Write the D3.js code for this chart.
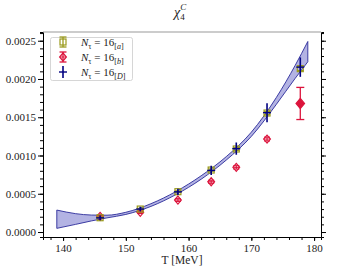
<!DOCTYPE html>
<html lang="en">
<head>
<meta charset="UTF-8">
<title>chi4 C</title>
<script src="https://d3js.org/d3.v7.min.js"></script>
<style>
  body { margin: 0; background: #fff; }
  text { font-family: "Liberation Serif", "DejaVu Serif", serif; fill: #222; }
</style>
</head>
<body>
<script>
    // data
    var temps = [145.9, 152.3, 158.3, 163.6, 167.6, 172.5, 177.8];
    var chiA = [0.000187, 0.000300, 0.000527, 0.000810, 0.001085, 0.001555, 0.002135];
    var errA = [0.000010, 0.000010, 0.000012, 0.000015, 0.000018, 0.000020, 0.000025];
    var chiB = [0.000205, 0.000257, 0.000418, 0.000657, 0.000845, 0.001215];
    var errB = [0.000015, 0.000015, 0.000018, 0.000020, 0.000022, 0.000025];
    var tempsB2 = [177.8];
    var chiB2 = [0.00168];
    var errB2 = [0.00021];
    var chiD = [0.000185, 0.000300, 0.000525, 0.000805, 0.001090, 0.001560, 0.002155];
    var errD = [0.00003, 0.00003, 0.00004, 0.00006, 0.00008, 0.000124, 0.000127];

    var bandT     = [139, 142, 144.5, 147, 150, 154, 158, 162, 166, 170, 174, 177, 179];
    var bandUpper = [0.000287, 0.000240, 0.000222, 0.000220, 0.000258, 0.000370, 0.000530, 0.000735, 0.000985, 0.001305, 0.001760, 0.002180, 0.002490];
    var bandLower = [0.000048, 0.000100, 0.000145, 0.000185, 0.000230, 0.000335, 0.000490, 0.000690, 0.000940, 0.001250, 0.001670, 0.002010, 0.002225];

    var xTicks = [140, 150, 160, 170, 180];
    var yTicks = [0, 0.0005, 0.0010, 0.0015, 0.0020, 0.0025];

    var width = 356, height = 267;
    var mLeft = 43, mRight = 321, mTop = 32, mBottom = 237;

    var olive = "#9a9a1c", red = "#dc143c", navy = "#000080";

    var svg = d3.select("body").append("svg")
        .attr("width", width)
        .attr("height", height);

    var x = d3.scaleLinear().domain([136.8, 181.1]).range([mLeft, mRight]);
    var y = d3.scaleLinear().domain([-0.000065, 0.002614]).range([mBottom, mTop]);

    // band
    var band = bandT.map(function(t, i) { return {t: t, lo: bandLower[i], hi: bandUpper[i]}; });
    var area = d3.area()
        .curve(d3.curveMonotoneX)
        .x(function(d) { return x(d.t); })
        .y0(function(d) { return y(d.lo); })
        .y1(function(d) { return y(d.hi); });
    svg.append("path")
        .datum(band)
        .attr("d", area)
        .attr("fill", "#8080d0")
        .attr("fill-opacity", 0.6)
        .attr("stroke", "#2a2a9a")
        .attr("stroke-width", 0.9);

    // axes
    var xMinor = d3.range(138, 181, 2);
    var yMinor = d3.range(0, 0.00261, 0.0001);

    svg.append("g").attr("transform", "translate(0," + mBottom + ")")
        .call(d3.axisBottom(x).tickValues(xMinor).tickSize(3).tickFormat(""));
    svg.append("g").attr("transform", "translate(0," + mBottom + ")")
        .call(d3.axisBottom(x).tickValues(xTicks).tickSize(4).tickPadding(3).tickFormat(d3.format("d")))
        .call(function(g) { g.select(".domain").remove(); });

    svg.append("g").attr("transform", "translate(" + mLeft + ",0)")
        .call(d3.axisLeft(y).tickValues(yMinor).tickSize(3).tickFormat(""));
    svg.append("g").attr("transform", "translate(" + mLeft + ",0)")
        .call(d3.axisLeft(y).tickValues(yTicks).tickSize(5).tickPadding(2).tickFormat(d3.format(".4f")))
        .call(function(g) { g.select(".domain").remove(); });

    svg.append("g").attr("transform", "translate(" + mRight + ",0)")
        .call(d3.axisRight(y).tickValues(yMinor).tickSize(3).tickFormat(""));
    svg.append("g").attr("transform", "translate(" + mRight + ",0)")
        .call(d3.axisRight(y).tickValues(yTicks).tickSize(5).tickFormat(""))
        .call(function(g) { g.select(".domain").remove(); });

    svg.selectAll(".domain").attr("stroke", "#000").attr("stroke-width", 1);
    svg.selectAll(".tick line").attr("stroke", "#000");
    svg.selectAll(".tick text")
        .style("font-family", '"Liberation Serif", serif')
        .style("font-size", "11px")
        .attr("fill", "#222");

    svg.append("line")
        .attr("x1", mLeft).attr("x2", mRight).attr("y1", mTop).attr("y2", mTop)
        .attr("stroke", "#999").attr("stroke-width", 1.2);

    // error bar helper
    function errbar(g, cx, cy, ylo, yhi, color, cap, sw) {
        g.append("line").attr("x1", cx).attr("x2", cx).attr("y1", ylo).attr("y2", yhi)
            .attr("stroke", color).attr("stroke-width", sw);
        if (cap > 0) {
            [ylo, yhi].forEach(function(yy) {
                g.append("line").attr("x1", cx - cap).attr("x2", cx + cap).attr("y1", yy).attr("y2", yy)
                    .attr("stroke", color).attr("stroke-width", sw);
            });
        }
    }
    function square(g, cx, cy, s, color) {
        g.append("rect").attr("x", cx - s).attr("y", cy - s).attr("width", 2 * s).attr("height", 2 * s)
            .attr("fill", "none").attr("stroke", color).attr("stroke-width", 1.2);
    }
    function diamond(g, cx, cy, s, color, filled) {
        g.append("path")
            .attr("d", "M" + cx + "," + (cy - s) + "L" + (cx + s * 0.85) + "," + cy + "L" + cx + "," + (cy + s) + "L" + (cx - s * 0.85) + "," + cy + "Z")
            .attr("fill", filled ? color : "none").attr("stroke", color).attr("stroke-width", 1.2);
    }
    function plus(g, cx, cy, s, color) {
        g.append("line").attr("x1", cx - s).attr("x2", cx + s).attr("y1", cy).attr("y2", cy)
            .attr("stroke", color).attr("stroke-width", 1.4);
    }

    var pts = svg.append("g");

    // series b (red)
    temps.slice(0, chiB.length).forEach(function(t, i) {
        var cx = x(t), cy = y(chiB[i]);
        errbar(pts, cx, cy, y(chiB[i] - errB[i]), y(chiB[i] + errB[i]), red, 3, 1.1);
        diamond(pts, cx, cy, 4, red, false);
        pts.append("line").attr("x1", cx - 3).attr("x2", cx + 3).attr("y1", cy).attr("y2", cy)
            .attr("stroke", red).attr("stroke-width", 1);
    });
    tempsB2.forEach(function(t, i) {
        var cx = x(t), cy = y(chiB2[i]);
        errbar(pts, cx, cy, y(chiB2[i] - errB2[i]), y(chiB2[i] + errB2[i]), red, 4, 1.3);
        diamond(pts, cx, cy, 5, red, true);
    });

    // series a (olive)
    temps.forEach(function(t, i) {
        var cx = x(t), cy = y(chiA[i]);
        errbar(pts, cx, cy, y(chiA[i] - errA[i]), y(chiA[i] + errA[i]), olive, 3, 1.1);
        square(pts, cx, cy, 3, olive);
    });

    // series D (navy)
    temps.forEach(function(t, i) {
        var cx = x(t), cy = y(chiD[i]);
        errbar(pts, cx, cy, y(chiD[i] - errD[i]), y(chiD[i] + errD[i]), navy, 0, 1.6);
        plus(pts, cx, cy, 4, navy);
    });

    // legend
    var lg = svg.append("g");
    lg.append("rect").attr("x", 50.5).attr("y", 37.5).attr("width", 82).attr("height", 43).attr("rx", 2)
        .attr("fill", "#fff").attr("fill-opacity", 0.8).attr("stroke", "#ccc").attr("stroke-width", 0.8);
    var rows = [42, 57, 72];
    var mx = 63;
    errbar(lg, mx, rows[0], rows[0] - 5, rows[0] + 5, olive, 3.5, 1.3);
    square(lg, mx, rows[0], 3, olive);
    errbar(lg, mx, rows[1], rows[1] - 5, rows[1] + 5, red, 3.5, 1.3);
    diamond(lg, mx, rows[1], 4, red, false);
    lg.append("line").attr("x1", mx - 3).attr("x2", mx + 3).attr("y1", rows[1]).attr("y2", rows[1])
        .attr("stroke", red).attr("stroke-width", 1);
    errbar(lg, mx, rows[2], rows[2] - 6, rows[2] + 6, navy, 0, 1.6);
    plus(lg, mx, rows[2], 4, navy);

    var labels = ["a", "b", "D"];
    rows.forEach(function(r, i) {
        var t = lg.append("text").attr("x", 81).attr("y", r + 4).style("font-size", "11px");
        t.append("tspan").attr("font-style", "italic").text("N");
        t.append("tspan").attr("font-size", "8px").attr("dy", 2.5).text("τ");
        t.append("tspan").attr("dy", -2.5).text(" = 16");
        var s = t.append("tspan").attr("font-size", "8px").attr("dy", 2.5);
        s.append("tspan").text("[");
        s.append("tspan").attr("font-style", "italic").text(labels[i]);
        s.append("tspan").text("]");
    });

    // title
    var title = svg.append("text").attr("x", 174).attr("y", 17).style("font-size", "14px");
    title.append("tspan").attr("font-style", "italic").text("χ");
    title.append("tspan").attr("font-size", "9px").attr("dy", -7).attr("font-style", "italic").text("C");
    title.append("tspan").attr("font-size", "9px").attr("dx", -6).attr("dy", 10).text("4");

    // x label
    svg.append("text").attr("x", 182).attr("y", 264).attr("text-anchor", "middle")
        .style("font-size", "11.5px").text("T [MeV]");
</script>
</body>
</html>
